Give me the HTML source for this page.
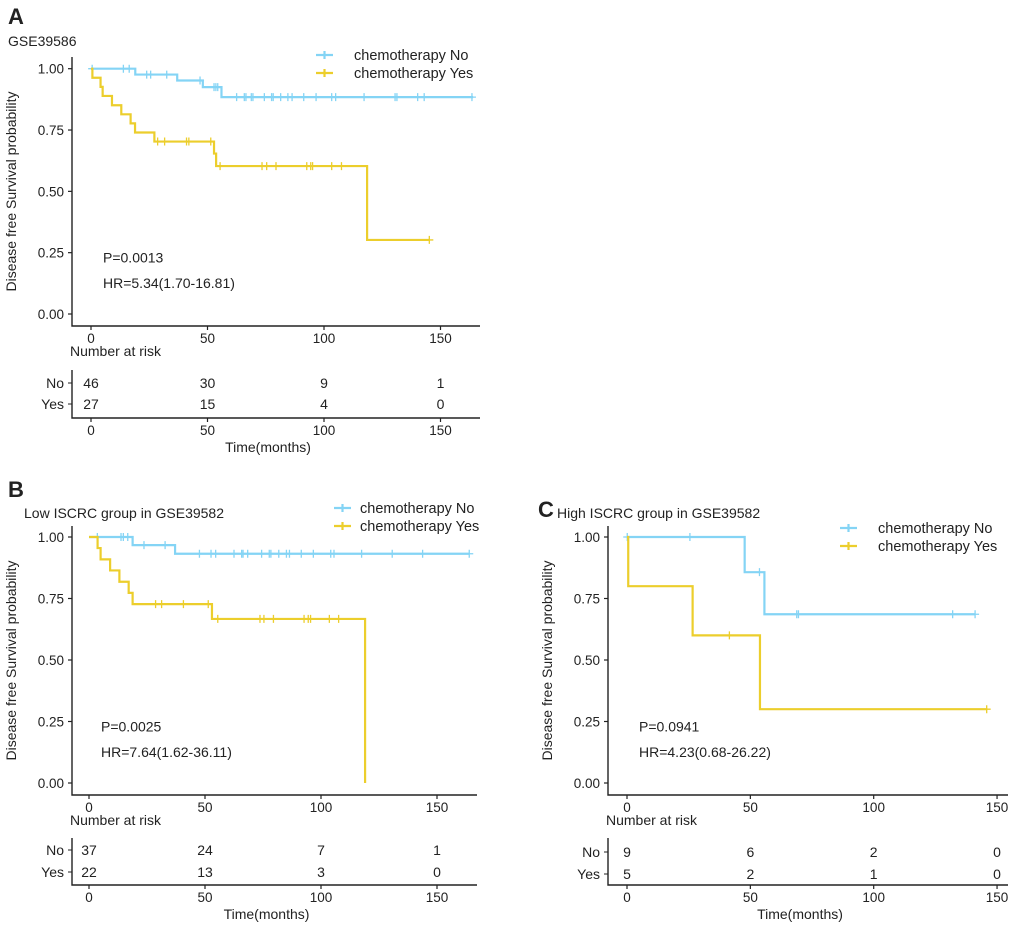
<!DOCTYPE html>
<html><head><meta charset="utf-8"><style>
body{margin:0;background:#fff;}
svg text{font-family:"Liberation Sans",Arial,sans-serif;fill:#222;}
</style></head><body>
<svg id="c" width="1020" height="929" viewBox="0 0 1020 929" xmlns="http://www.w3.org/2000/svg"></svg>
<script>
// ---- data ----
const ticksX = [0, 50, 100, 150];
const ticksY = [0, 0.25, 0.5, 0.75, 1];
const tickYLabels = ["0.00", "0.25", "0.50", "0.75", "1.00"];
const groups = ["No", "Yes"];

// Panel A
const aNoT = [0, 19, 37, 48, 56];
const aNoS = [1, 0.976, 0.952, 0.925, 0.884];
const aNoEnd = 164;
const aNoCens = [0.5, 13.9, 16.4, 23.9, 25.6, 32.5, 46.8, 52.8, 53.6, 54.4, 62.5, 65.8, 66.5, 68.8, 69.5, 74.4, 77.5, 78.2, 81.4, 84.5, 86.3, 91.3, 96.6, 103.3, 105, 117.2, 130.5, 131.3, 140.2, 143, 163.5];
const aYesT = [0, 0.6, 4.1, 5.0, 9.0, 13.0, 17.0, 18.9, 27.2, 52.8, 53.7, 118.5];
const aYesS = [1, 0.963, 0.926, 0.889, 0.851, 0.814, 0.777, 0.740, 0.703, 0.654, 0.603, 0.302];
const aYesEnd = 145.5;
const aYesCens = [28.6, 31.6, 41, 42, 51.4, 55.4, 73.4, 75.4, 79.4, 92.6, 94.3, 95.1, 103.3, 107.5, 145.2];
const aRiskNo = [46, 30, 9, 1];
const aRiskYes = [27, 15, 4, 0];

// Panel B
const bNoT = [0, 18.8, 37.1];
const bNoS = [1, 0.967, 0.932];
const bNoEnd = 164;
const bNoCens = [3.6, 13.8, 14.8, 16.7, 23.7, 32.8, 47.6, 52.6, 54.6, 62.5, 65.8, 66.4, 68.4, 74.4, 77.7, 78.4, 81.8, 85.1, 86.4, 91.5, 96.7, 104.2, 105.6, 117.5, 130.7, 143.8, 163.9];
const bYesT = [0, 3.7, 5.0, 9.1, 13.1, 17.1, 18.8, 53, 119];
const bYesS = [1, 0.955, 0.909, 0.864, 0.818, 0.773, 0.727, 0.667, 0];
const bYesEnd = 119;
const bYesCens = [28.7, 31.3, 40.7, 51.4, 55.5, 73.7, 75.4, 79.5, 92.7, 94.5, 95.5, 103.6, 107.6];
const bRiskNo = [37, 24, 7, 1];
const bRiskYes = [22, 13, 3, 0];

// Panel C
const cNoT = [0, 47.7, 55.7];
const cNoS = [1, 0.857, 0.686];
const cNoEnd = 141.1;
const cNoCens = [0.1, 25.5, 53.7, 68.8, 69.5, 132, 141.1];
const cYesT = [0, 0.5, 26.6, 53.9];
const cYesS = [1, 0.8, 0.6, 0.3];
const cYesEnd = 146;
const cYesCens = [41.5, 145.8];
const cRiskNo = [9, 6, 2, 0];
const cRiskYes = [5, 2, 1, 0];

// ---- drawing ----
const NS = "http://www.w3.org/2000/svg";
const svg = document.getElementById("c");
const BLUE = "#84d4f5", YEL = "#ecce2c";
function el(tag, attrs, parent, text) {
  const e = document.createElementNS(NS, tag);
  for (const k in attrs) e.setAttribute(k, attrs[k]);
  if (text !== undefined) e.textContent = text;
  (parent || svg).appendChild(e);
  return e;
}
function txt(x, y, s, anchor, size, name, extra) {
  const t = el("text", Object.assign({x: x, y: y, "text-anchor": anchor || "start", "font-size": size || 13}, extra || {}), svg, s);
  
  
  return t;
}

function panel(p) {
  const g = el("g", {});
  
  
  const sx = v => p.x0 + v * p.kx;
  const sy = v => p.y0 - v * (p.y0 - p.y1);
  const ax = el("path", {d: `M${p.axL},${p.axTop}V${p.axY}H${p.axR}`, stroke: "#222", "stroke-width": 1.4, fill: "none"}, g);
  
  
  ticksY.forEach((v, i) => {
    el("line", {x1: p.axL - 4, x2: p.axL, y1: sy(v), y2: sy(v), stroke: "#222", "stroke-width": 1.2}, g);
    txt(p.axL - 8, sy(v) + 5, tickYLabels[i], "end", 13.5, p.id + '-y-tick-label');
  });
  ticksX.forEach(v => {
    el("line", {x1: sx(v), x2: sx(v), y1: p.axY, y2: p.axY + 4, stroke: "#222", "stroke-width": 1.2}, g);
    txt(sx(v), p.axY + 17, String(v), "middle", 13.5, p.id + '-x-tick-label');
  });
  function curve(T, S, end, cens, color, name) {
    let d = `M${sx(T[0])},${sy(S[0])}`;
    for (let i = 1; i < T.length; i++) d += `H${sx(T[i])}V${sy(S[i])}`;
    d += `H${sx(end)}`;
    const path = el("path", {d: d, stroke: color, "stroke-width": 2.2, fill: "none"}, g);
    
    
    cens.forEach(c => {
      let s = S[0];
      for (let i = 0; i < T.length; i++) if (T[i] <= c) s = S[i];
      const m = el("path", {d: `M${sx(c) - 4},${sy(s)}H${sx(c) + 4}M${sx(c)},${sy(s) - 4}V${sy(s) + 4}`, stroke: color, "stroke-width": 1.3}, g);
      
      
    });
  }
  curve(p.noT, p.noS, p.noEnd, p.noCens, BLUE, p.id + '-no');
  curve(p.yesT, p.yesS, p.yesEnd, p.yesCens, YEL, p.id + '-yes');
  [[BLUE, "chemotherapy No", p.legY], [YEL, "chemotherapy Yes", p.legY + 18]].forEach(([col, lab, y]) => {
    const l = el("path", {d: `M${p.legX},${y}H${p.legX + 17}M${p.legX + 8.5},${y - 4}V${y + 4}`, stroke: col, "stroke-width": 2.2}, g);
    
    
    txt(p.legTx, y + 5, lab, "start", 14.5, 'legend-entry');
  });
  txt(p.x0 + 12, sy(0.21), p.pval, "start", 14, p.id + '-p-value');
  txt(p.x0 + 12, sy(0.105), p.hr, "start", 14, p.id + '-hazard-ratio');
  txt(0, 0, "Disease free Survival probability", "middle", 14, p.id + '-y-axis-title',
    {transform: `translate(${p.ytX},${(p.axTop + p.axY) / 2}) rotate(-90)`});
  txt(p.axL - 2, p.riskHead, "Number at risk", "start", 14, p.id + '-risk-title');
  const r = el("path", {d: `M${p.axL},${p.riskTop}V${p.riskAx}H${p.axR}`, stroke: "#222", "stroke-width": 1.4, fill: "none"}, g);
  
  
  [[groups[0], p.riskNo, p.rowNo], [groups[1], p.riskYes, p.rowYes]].forEach(([lab, vals, y]) => {
    el("line", {x1: p.axL - 4, x2: p.axL, y1: y - 5, y2: y - 5, stroke: "#222"}, g);
    txt(p.axL - 8, y, lab, "end", 14, p.id + '-risk-row-label');
    vals.forEach((v, i) => txt(sx(ticksX[i]), y, String(v), "middle", 14, p.id + '-risk-count'));
  });
  ticksX.forEach(v => {
    el("line", {x1: sx(v), x2: sx(v), y1: p.riskAx, y2: p.riskAx + 4, stroke: "#222", "stroke-width": 1.2}, g);
    txt(sx(v), p.riskAx + 17, String(v), "middle", 13.5, p.id + '-risk-x-tick-label');
  });
  txt((p.axL + p.axR) / 2 - 8, p.riskAx + 34, "Time(months)", "middle", 14, p.id + '-x-axis-title');
}

panel({id: "a", x0: 91, kx: 2.33, y0: 314, y1: 68.7, axL: 72, axR: 480, axTop: 57, axY: 326,
  noT: aNoT, noS: aNoS, noEnd: aNoEnd, noCens: aNoCens, yesT: aYesT, yesS: aYesS, yesEnd: aYesEnd, yesCens: aYesCens,
  legX: 316, legTx: 354, legY: 55, pval: "P=0.0013", hr: "HR=5.34(1.70-16.81)", ytX: 16,
  riskHead: 356, riskTop: 370, riskAx: 418, rowNo: 388, rowYes: 409, riskNo: aRiskNo, riskYes: aRiskYes});
panel({id: "b", x0: 89, kx: 2.32, y0: 783, y1: 537, axL: 72, axR: 477, axTop: 526, axY: 795,
  noT: bNoT, noS: bNoS, noEnd: bNoEnd, noCens: bNoCens, yesT: bYesT, yesS: bYesS, yesEnd: bYesEnd, yesCens: bYesCens,
  legX: 334, legTx: 360, legY: 508, pval: "P=0.0025", hr: "HR=7.64(1.62-36.11)", ytX: 16,
  riskHead: 825, riskTop: 838, riskAx: 885, rowNo: 855, rowYes: 877, riskNo: bRiskNo, riskYes: bRiskYes});
panel({id: "c", x0: 627, kx: 2.467, y0: 783, y1: 537, axL: 608, axR: 1008, axTop: 526, axY: 795,
  noT: cNoT, noS: cNoS, noEnd: cNoEnd, noCens: cNoCens, yesT: cYesT, yesS: cYesS, yesEnd: cYesEnd, yesCens: cYesCens,
  legX: 840, legTx: 878, legY: 528, pval: "P=0.0941", hr: "HR=4.23(0.68-26.22)", ytX: 552,
  riskHead: 825, riskTop: 838, riskAx: 885, rowNo: 857, rowYes: 879, riskNo: cRiskNo, riskYes: cRiskYes});

txt(8, 24, "A", "start", 22, 'panel-label-a', {"font-weight": "bold"});
txt(8, 46, "GSE39586", "start", 14, 'panel-a-title');
txt(8, 497, "B", "start", 22, 'panel-label-b', {"font-weight": "bold"});
txt(24, 518, "Low ISCRC group in GSE39582", "start", 14, 'panel-b-title');
txt(538, 517, "C", "start", 22, 'panel-label-c', {"font-weight": "bold"});
txt(557, 518, "High ISCRC group in GSE39582", "start", 14, 'panel-c-title');
</script>
</body></html>
